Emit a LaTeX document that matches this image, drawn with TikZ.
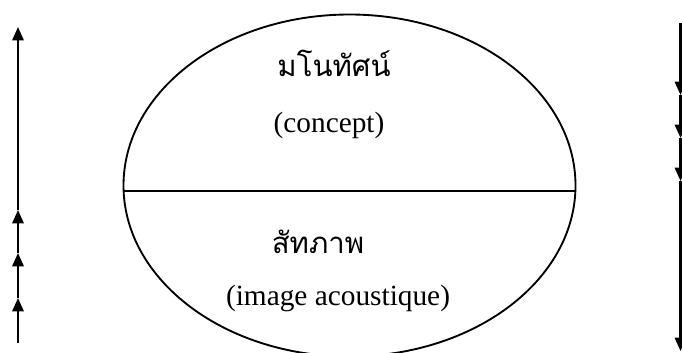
\documentclass[tikz,border=0pt]{standalone}
\usepackage{fontspec}
\setmainfont{Liberation Serif}
\newfontfamily\thaifont[Script=Thai]{Loma}
\usetikzlibrary{arrows.meta,shapes.geometric}
\tikzset{
  x=0.75pt, y=-0.75pt,
  flow/.style={line width=1.6pt, -{Triangle[length=10pt,width=8.5pt]}},
  thai/.style={font=\thaifont\fontsize{22}{26}\selectfont},
  latin/.style={font=\fontsize{22}{26}\selectfont},
}
\begin{document}
\begin{tikzpicture}
\clip (0,0) rectangle (682,353);
\useasboundingbox (0,0) rectangle (682,353);
% ellipse
\node[draw, line width=1.4pt, ellipse, minimum width=339pt, minimum height=256.5pt, inner sep=0pt] (E) at (349.5,185.5) {};
\coordinate (dl) at (124,191);
\coordinate (dr) at (575,191);
\draw[line width=1.1pt] (dl) -- (dr);
% texts
\node[thai] (t1) at (334,63) {มโนทัศน์};
\node[latin] (c1) at (329,125) {(concept)};
\node[thai] (t2) at (318,242) {สัทภาพ};
\node[latin] (c2) at (338,298) {(image acoustique)};
% left arrows
\coordinate (l0) at (18,343);
\coordinate (l1) at (18,298);
\coordinate (l2) at (18,253);
\coordinate (l3) at (18,210);
\coordinate (l4) at (18,27);
\draw[flow] (l0) -- (l1);
\draw[flow] (l1) -- (l2);
\draw[flow] (l2) -- (l3);
\draw[flow] (l3) -- (l4);
% right arrows
\coordinate (r0) at (680.5,23);
\coordinate (r1) at (680.5,95);
\coordinate (r2) at (680.5,138);
\coordinate (r3) at (680.5,181);
\coordinate (r4) at (680.5,351);
\draw[flow] (r0) -- (r1);
\draw[flow] (r1) -- (r2);
\draw[flow] (r2) -- (r3);
\draw[flow] (r3) -- (r4);
\end{tikzpicture}
\end{document}
